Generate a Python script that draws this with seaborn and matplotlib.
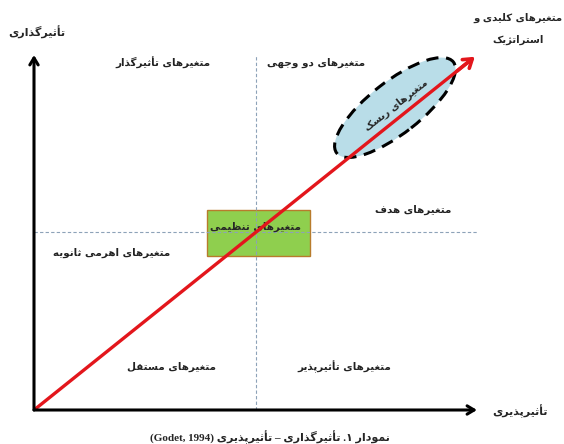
import matplotlib
matplotlib.use('Agg')
import matplotlib.pyplot as plt
import matplotlib.transforms as mtransforms
from matplotlib.patches import Ellipse, Rectangle
import seaborn as sns

sns.set_style('white')
plt.rcParams['font.family'] = ['DejaVu Sans']

# --- chart content ---
axis_y_label = 'تأثیرگذاری'
axis_x_label = 'تأثیرپذیری'
key_label = ['متغیرهای کلیدی و', 'استراتژیک']
quadrant_labels = ['متغیرهای تأثیرگذار', 'متغیرهای دو وجهی', 'متغیرهای هدف',
                   'متغیرهای اهرمی ثانویه', 'متغیرهای مستقل', 'متغیرهای تأثیرپذیر']
quadrant_x = [0.29, 0.637, 0.855, 0.176, 0.31, 0.70]
quadrant_y = [0.977, 0.977, 0.563, 0.442, 0.121, 0.121]
regulating_label = 'متغیرهای تنظیمی'
risk_label = 'متغیرهای ریسک'
diagonal_x = [0.0, 1.0]
diagonal_y = [0.0, 1.0]
split = 0.5
caption = 'نمودار ۱. تأثیرگذاری – تأثیرپذیری'
caption_ref = '(Godet, 1994)'

# persian letter forms: isolated, final, initial, medial
FORMS = {
    'ا': ('\uFE8D', '\uFE8E', None, None),
    'أ': ('\uFE83', '\uFE84', None, None),
    'د': ('\uFEA9', '\uFEAA', None, None),
    'ذ': ('\uFEAB', '\uFEAC', None, None),
    'ر': ('\uFEAD', '\uFEAE', None, None),
    'ز': ('\uFEAF', '\uFEB0', None, None),
    'ژ': ('\uFB8A', '\uFB8B', None, None),
    'و': ('\uFEED', '\uFEEE', None, None),
    'ب': ('\uFE8F', '\uFE90', '\uFE91', '\uFE92'),
    'پ': ('\uFB56', '\uFB57', '\uFB58', '\uFB59'),
    'ت': ('\uFE95', '\uFE96', '\uFE97', '\uFE98'),
    'ث': ('\uFE99', '\uFE9A', '\uFE9B', '\uFE9C'),
    'ج': ('\uFE9D', '\uFE9E', '\uFE9F', '\uFEA0'),
    'س': ('\uFEB1', '\uFEB2', '\uFEB3', '\uFEB4'),
    'ظ': ('\uFEC5', '\uFEC6', '\uFEC7', '\uFEC8'),
    'غ': ('\uFECD', '\uFECE', '\uFECF', '\uFED0'),
    'ف': ('\uFED1', '\uFED2', '\uFED3', '\uFED4'),
    'ق': ('\uFED5', '\uFED6', '\uFED7', '\uFED8'),
    'ل': ('\uFEDD', '\uFEDE', '\uFEDF', '\uFEE0'),
    'م': ('\uFEE1', '\uFEE2', '\uFEE3', '\uFEE4'),
    'ن': ('\uFEE5', '\uFEE6', '\uFEE7', '\uFEE8'),
    'ه': ('\uFEE9', '\uFEEA', '\uFEEB', '\uFEEC'),
    'ی': ('\uFBFC', '\uFBFD', '\uFBFE', '\uFBFF'),
    'ک': ('\uFB8E', '\uFB8F', '\uFB90', '\uFB91'),
    'گ': ('\uFB92', '\uFB93', '\uFB94', '\uFB95'),
}


def fa(text):
    out = []
    for i, ch in enumerate(text):
        if ch not in FORMS:
            out.append(ch)
            continue
        prev = text[i - 1] if i > 0 else None
        nxt = text[i + 1] if i + 1 < len(text) else None
        join_prev = prev in FORMS and FORMS[prev][2] is not None
        join_next = nxt in FORMS and FORMS[ch][2] is not None
        iso, fin, ini, med = FORMS[ch]
        if join_prev and join_next:
            out.append(med)
        elif join_prev:
            out.append(fin)
        elif join_next:
            out.append(ini)
        else:
            out.append(iso)
    return ''.join(out)[::-1]


W, H = 564, 444
fig = plt.figure(figsize=(W / 100, H / 100), dpi=100)
ax = fig.add_axes([34 / W, 34 / H, 443 / W, 355 / H])
ax.set_xlim(0, 1)
ax.set_ylim(0, 1)
ax.axis('off')

# quadrant dividers
dash = dict(color='#8da2b8', lw=0.8, dashes=(3, 2), zorder=3)
ax.plot([split, split], [0, 1], **dash)
ax.plot([0, 1.01], [split, split], **dash)

# regulating box
ax.add_patch(Rectangle((0.39, 0.434), 0.232, 0.129, facecolor='#8fcf4e',
                       edgecolor='#b87b2c', lw=1.0, zorder=2))
ax.text(0.499, 0.515, fa(regulating_label), ha='center', va='center',
        fontsize=7.5, fontweight='bold', zorder=4)

# risk ellipse (pixel sized)
ell_tr = mtransforms.Affine2D().scale(1 / 443, 1 / 355).translate(0.815, 0.852) + ax.transData
ax.add_patch(Ellipse((0, 0), 148, 52, angle=38, facecolor='#b9dde8',
                     edgecolor='black', lw=2.2, linestyle=(0, (4, 2.5)),
                     transform=ell_tr, zorder=2))
ax.text(0.817, 0.858, fa(risk_label), ha='center', va='center', rotation=38,
        rotation_mode='anchor', fontsize=7, fontweight='bold', zorder=6)

# diagonal red arrow
sns.lineplot(x=diagonal_x[:1] + [0.985], y=diagonal_y[:1] + [0.985], ax=ax,
             color='#e3161c', lw=2.4, zorder=5)
ax.annotate('', xy=(diagonal_x[1], diagonal_y[1]), xytext=(0.95, 0.95),
            arrowprops=dict(arrowstyle='->,head_length=0.6,head_width=0.4',
                            color='#e3161c', lw=2.6), zorder=5)

# axes arrows
ax.annotate('', xy=(0, 1.0), xytext=(0, 0),
            arrowprops=dict(arrowstyle='->,head_length=0.5,head_width=0.3',
                            color='black', lw=2.2, shrinkA=0, shrinkB=0),
            annotation_clip=False, zorder=6)
ax.annotate('', xy=(1.0, 0), xytext=(0, 0),
            arrowprops=dict(arrowstyle='->,head_length=0.5,head_width=0.3',
                            color='black', lw=2.2, shrinkA=0, shrinkB=0),
            annotation_clip=False, zorder=6)

# quadrant labels
for lab, qx, qy in zip(quadrant_labels, quadrant_x, quadrant_y):
    ax.text(qx, qy, fa(lab), ha='center', va='center', fontsize=7.5,
            fontweight='bold', color='#222222')

# outer labels
fig.text(37 / W, 1 - 32 / H, fa(axis_y_label), ha='center', va='center',
         fontsize=8, fontweight='bold')
fig.text(520 / W, 1 - 411 / H, fa(axis_x_label), ha='center', va='center',
         fontsize=8, fontweight='bold')
fig.text(518 / W, 1 - 18 / H, fa(key_label[0]), ha='center', va='center',
         fontsize=7.3, fontweight='bold')
fig.text(518 / W, 1 - 40 / H, fa(key_label[1]), ha='center', va='center',
         fontsize=7.3, fontweight='bold')
fig.text(270 / W, 1 - 437 / H, caption_ref + ' ' + fa(caption), ha='center',
         va='center', fontsize=8, fontweight='bold',
         family=['Liberation Serif', 'DejaVu Sans'])

fig.savefig('out.png', dpi=100)
